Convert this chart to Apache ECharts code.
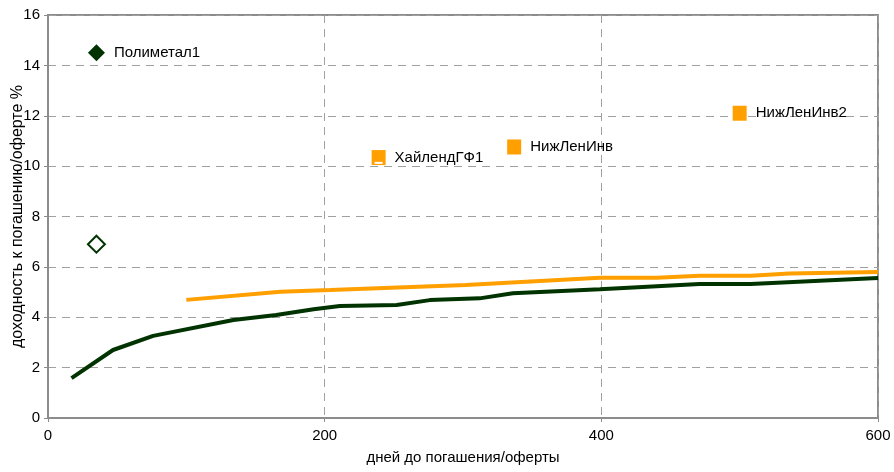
<!DOCTYPE html>
<html><head><meta charset="utf-8">
<script src="https://cdn.jsdelivr.net/npm/echarts@6/dist/echarts.min.js"></script>
<style>html,body{margin:0;padding:0;background:#fff}#c{width:894px;height:472px}</style>
</head><body><div id="c"></div>
<script>
// Curve 1 (dark green)
const greenDays = [17, 47, 76, 134, 165, 192, 211, 252, 276, 312, 336, 399, 471, 508, 600];
const greenYield = [1.58, 2.70, 3.26, 3.89, 4.09, 4.32, 4.45, 4.49, 4.68, 4.75, 4.95, 5.11, 5.32, 5.32, 5.56];
// Curve 2 (orange)
const orangeDays = [100, 168, 204, 302, 399, 440, 471, 508, 536, 600];
const orangeYield = [4.69, 5.01, 5.08, 5.28, 5.57, 5.57, 5.65, 5.65, 5.74, 5.80];
// Green bonds
const greenBondNames = ['Полиметал1'];
const greenBondDays = [35];
const greenBondYield = [14.5];
const greenHollowDays = [35];
const greenHollowYield = [6.9];
// Orange bonds
const orangeBondNames = ['ХайлендГФ1', 'НижЛенИнв', 'НижЛенИнв2'];
const orangeBondDays = [239, 337, 500];
const orangeBondYield = [10.34, 10.76, 12.1];
// Small white mark inside ХайлендГФ1 square
const whiteMarkDays = [239];
const whiteMarkYield = [10.13];
// Axes
const xMin = 0, xMax = 600, xStep = 200;
const yMin = 0, yMax = 16, yStep = 2;
const xTitle = 'дней до погашения/оферты';
const yTitle = 'доходность к погашению/оферте %';

const zip = (a, b) => a.map((v, i) => [v, b[i]]);
const font = 'Liberation Sans, Arial, sans-serif';
const chart = echarts.init(document.getElementById('c'), null, {renderer: 'canvas'});
const labelStyle = {show: true, position: 'right', distance: 9, color: '#000', fontSize: 15, fontFamily: font,
  formatter: p => p.data[2]};
chart.setOption({
  animation: false,
  backgroundColor: '#fff',
  grid: {left: 48, right: 16, top: 15, bottom: 54, show: true, borderColor: '#8c8c8c', borderWidth: 2,
    containLabel: false, outerBoundsMode: 'none'},
  xAxis: {
    type: 'value', min: xMin, max: xMax, interval: xStep,
    name: xTitle, nameLocation: 'middle', nameGap: 32, nameMoveOverlap: false,
    nameTextStyle: {color: '#000', fontSize: 15, fontFamily: font},
    axisLine: {show: true, lineStyle: {color: '#8c8c8c', width: 2}},
    axisTick: {show: true, length: 4, lineStyle: {color: '#8c8c8c', width: 1}},
    axisLabel: {color: '#000', fontSize: 15, fontFamily: font, margin: 10},
    splitLine: {show: true, lineStyle: {color: '#a0a0a0', type: [8, 6], width: 1}}
  },
  yAxis: {
    type: 'value', min: yMin, max: yMax, interval: yStep,
    name: yTitle, nameLocation: 'middle', nameGap: 22, nameMoveOverlap: false,
    nameTextStyle: {color: '#000', fontSize: 16, fontFamily: font},
    axisLine: {show: true, lineStyle: {color: '#8c8c8c', width: 2}},
    axisTick: {show: true, length: 4, lineStyle: {color: '#8c8c8c', width: 1}},
    axisLabel: {color: '#000', fontSize: 15, fontFamily: font, margin: 8},
    splitLine: {show: true, lineStyle: {color: '#a0a0a0', type: [8, 6], width: 1}}
  },
  series: [
    {type: 'line', data: zip(orangeDays, orangeYield), showSymbol: false, symbol: 'none',
      lineStyle: {color: '#ff9f00', width: 4}, z: 3},
    {type: 'line', data: zip(greenDays, greenYield), showSymbol: false, symbol: 'none',
      lineStyle: {color: '#003300', width: 4}, z: 4},
    {type: 'scatter', data: greenBondDays.map((d, i) => [d, greenBondYield[i], greenBondNames[i]]),
      symbol: 'diamond', symbolSize: [17, 17], itemStyle: {color: '#003300', opacity: 1}, label: labelStyle, z: 5},
    {type: 'scatter', data: zip(greenHollowDays, greenHollowYield),
      symbol: 'diamond', symbolSize: [17, 17], itemStyle: {color: '#fff', borderColor: '#003300', borderWidth: 2, opacity: 1}, z: 5},
    {type: 'scatter', data: orangeBondDays.map((d, i) => [d, orangeBondYield[i], orangeBondNames[i]]),
      symbol: 'rect', symbolSize: [14, 15], itemStyle: {color: '#ff9f00', opacity: 1}, label: labelStyle, z: 5},
    {type: 'scatter', data: zip(whiteMarkDays, whiteMarkYield),
      symbol: 'rect', symbolSize: [8, 2], itemStyle: {color: '#fff', opacity: 1}, z: 6}
  ]
});
</script></body></html>
